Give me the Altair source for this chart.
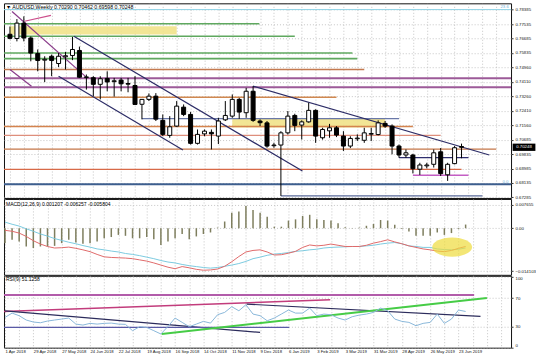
import json
import altair as alt
import pandas as pd

FONT = "Liberation Sans"
GRID = "#B8B8B8"

# ---------------- data ----------------
bar_index = list(range(66))
opens = [0.7693, 0.7668, 0.7759, 0.7671, 0.7579, 0.7540, 0.7563, 0.7520, 0.7560, 0.7567,
         0.7597, 0.7437, 0.7436, 0.7397, 0.7432, 0.7413, 0.7422, 0.7402, 0.7390, 0.7279,
         0.7308, 0.7327, 0.7184, 0.7095, 0.7150, 0.7262, 0.7219, 0.7048, 0.7104, 0.7113,
         0.7091, 0.7187, 0.7209, 0.7308, 0.7229, 0.7356, 0.7180, 0.7169, 0.7034, 0.7038,
         0.7110, 0.7213, 0.7156, 0.7175, 0.7243, 0.7081, 0.7122, 0.7140, 0.7091, 0.7032,
         0.7075, 0.7066, 0.7102, 0.7100, 0.7166, 0.7150, 0.7032, 0.6979, 0.6979, 0.6895,
         0.6915, 0.6924, 0.6998, 0.6862, 0.6928, 0.70290]
highs = [0.7739, 0.7783, 0.7799, 0.7680, 0.7603, 0.7563, 0.7573, 0.7582, 0.7589, 0.7677,
         0.7620, 0.7455, 0.7445, 0.7445, 0.7474, 0.7435, 0.7435, 0.7435, 0.7445, 0.7309,
         0.7343, 0.7345, 0.7219, 0.7209, 0.7298, 0.7278, 0.7233, 0.7130, 0.7130, 0.7130,
         0.7199, 0.7298, 0.7337, 0.7317, 0.7376, 0.7386, 0.7190, 0.7180, 0.7051, 0.7120,
         0.7239, 0.7223, 0.7184, 0.7288, 0.7249, 0.7140, 0.7163, 0.7150, 0.7120, 0.7090,
         0.7101, 0.7140, 0.7140, 0.7184, 0.7180, 0.7160, 0.7041, 0.7012, 0.6986, 0.6933,
         0.6933, 0.7012, 0.7020, 0.6933, 0.7032, 0.70462]
lows = [0.7663, 0.7651, 0.7651, 0.7533, 0.7474, 0.7410, 0.7445, 0.7499, 0.7485, 0.7540,
        0.7435, 0.7366, 0.7327, 0.7308, 0.7356, 0.7324, 0.7356, 0.7350, 0.7277, 0.7190,
        0.7298, 0.7180, 0.7091, 0.7081, 0.7146, 0.7209, 0.7041, 0.7041, 0.7090, 0.7012,
        0.7044, 0.7180, 0.7199, 0.7193, 0.7199, 0.7175, 0.7150, 0.7022, 0.7022, 0.6737,
        0.7100, 0.7120, 0.7071, 0.7170, 0.7051, 0.7070, 0.7081, 0.7085, 0.7003, 0.7020,
        0.7062, 0.7051, 0.7062, 0.7095, 0.7140, 0.6983, 0.6963, 0.6963, 0.6870, 0.6861,
        0.6900, 0.6905, 0.6855, 0.6826, 0.6924, 0.69598]
closes = [0.7669, 0.7759, 0.7671, 0.7582, 0.7538, 0.7545, 0.7538, 0.7563, 0.7566, 0.7603,
          0.7439, 0.7441, 0.7397, 0.7430, 0.7411, 0.7418, 0.7400, 0.7398, 0.7278, 0.7308,
          0.7327, 0.7191, 0.7101, 0.7146, 0.7268, 0.7219, 0.7048, 0.7101, 0.7120, 0.7104,
          0.7180, 0.7213, 0.7308, 0.7233, 0.7356, 0.7184, 0.7170, 0.7032, 0.7038, 0.7110,
          0.7209, 0.7154, 0.7175, 0.7243, 0.7091, 0.7130, 0.7140, 0.7097, 0.7032, 0.7077,
          0.7079, 0.7110, 0.7106, 0.7169, 0.7150, 0.7032, 0.6979, 0.6992, 0.6898, 0.6920,
          0.6920, 0.6992, 0.6869, 0.6924, 0.7022, 0.70248]

macd_hist = [-0.0049, -0.0038, -0.0044, -0.0060, -0.0065, -0.0060, -0.0060, -0.0058, -0.0049, -0.0038,
             -0.0047, -0.0051, -0.0049, -0.0044, -0.0033, -0.0029, -0.0022, -0.0025, -0.0033, -0.0033,
             -0.0029, -0.0036, -0.0055, -0.0044, -0.0033, -0.0019, -0.0036, -0.0027, -0.0019, -0.0014,
             0.0002, 0.0022, 0.0051, 0.0055, 0.0073, 0.0060, 0.0051, 0.0038, 0.0005, 0.0005,
             0.0025, 0.0029, 0.0040, 0.0044, 0.0029, 0.0027, 0.0025, 0.0016, 0.0003, 0.0001,
             0.0002, 0.0008, 0.0014, 0.0027, 0.0025, 0.0011, -0.0003, -0.0011, -0.0025, -0.0025,
             -0.0025, -0.0014, -0.0022, -0.0016, -0.0003, 0.0012]
macd_red = [-0.0007, -0.0010, -0.0016, -0.0027, -0.0041, -0.0052, -0.0060, -0.0065, -0.0064, -0.0062,
            -0.0066, -0.0071, -0.0077, -0.0086, -0.0094, -0.0096, -0.0097, -0.0098, -0.0100, -0.0104,
            -0.0108, -0.0114, -0.0121, -0.0128, -0.0133, -0.0126, -0.0130, -0.0135, -0.0138, -0.0137,
            -0.0134, -0.0125, -0.0110, -0.0093, -0.0078, -0.0073, -0.0071, -0.0078, -0.0088, -0.0087,
            -0.0082, -0.0076, -0.0063, -0.0055, -0.0058, -0.0056, -0.0052, -0.0056, -0.0060, -0.0060,
            -0.0060, -0.0056, -0.0049, -0.0044, -0.0038, -0.0045, -0.0051, -0.0058, -0.0063, -0.0068,
            -0.0071, -0.0075, -0.0077, -0.0073, -0.0066, -0.0060]
macd_blue = [0.0020, 0.0013, 0.0007, -0.0002, -0.0010, -0.0019, -0.0026, -0.0034, -0.0040, -0.0046,
             -0.0051, -0.0057, -0.0062, -0.0068, -0.0071, -0.0075, -0.0078, -0.0083, -0.0086, -0.0090,
             -0.0095, -0.0100, -0.0106, -0.0111, -0.0114, -0.0119, -0.0123, -0.0126, -0.0129, -0.0131,
             -0.0129, -0.0125, -0.0121, -0.0116, -0.0109, -0.0100, -0.0095, -0.0089, -0.0085, -0.0083,
             -0.0080, -0.0076, -0.0074, -0.0071, -0.0069, -0.0065, -0.0063, -0.0062, -0.0061, -0.0060,
             -0.0060, -0.0058, -0.0056, -0.0052, -0.0049, -0.0047, -0.0051, -0.0058, -0.0060, -0.0063,
             -0.0063, -0.0068, -0.0070, -0.0071, -0.0069, -0.0065]
rsi_values = [42.7, 48.8, 45.1, 39.0, 36.2, 35.2, 37.6, 39.0, 40.4, 41.8,
              33.3, 31.9, 34.3, 33.3, 34.3, 34.7, 33.3, 32.9, 24.0, 29.6,
              28.6, 24.0, 19.3, 30.0, 41.8, 35.7, 29.6, 33.3, 37.1, 34.7,
              46.5, 49.8, 57.8, 52.1, 60.6, 47.4, 45.1, 38.0, 41.8, 47.4,
              53.1, 48.8, 48.8, 55.9, 45.1, 47.4, 46.5, 41.8, 39.0, 43.7,
              46.0, 47.4, 49.8, 55.9, 52.1, 40.4, 37.1, 35.7, 31.0, 34.3,
              35.7, 47.4, 34.3, 40.4, 53.1, 51.1]

date_labels = ["1 Apr 2018", "29 Apr 2018", "27 May 2018", "24 Jun 2018", "22 Jul 2018",
               "19 Aug 2018", "16 Sep 2018", "14 Oct 2018", "11 Nov 2018", "9 Dec 2018",
               "6 Jan 2019", "3 Feb 2019", "3 Mar 2019", "31 Mar 2019", "28 Apr 2019",
               "26 May 2019", "23 Jun 2019"]
price_ticks = [0.78385, 0.77535, 0.76685, 0.75835, 0.74960, 0.74110, 0.73260, 0.72410,
               0.71560, 0.70685, 0.69835, 0.68985, 0.68135, 0.67285]
macd_ticks = [0.007655, 0.0, -0.014103]
rsi_ticks = [100, 70, 30, 0]

# horizontal levels drawn on the price panel
hl_level = [0.7839, 0.7755, 0.7681, 0.7582, 0.7549, 0.7485, 0.7433, 0.7380, 0.7321,
            0.7194, 0.7148, 0.7095, 0.7014, 0.6894, 0.6806, 0.6963, 0.6859, 0.6737]
hl_from = [-1, -1, -1, -1, -1, -1, -1, -1, -1, 19, -1, -1, -1, -1, -1, 56, 58, 39]
hl_to = [75, 35.9, 41, 49.3, 50, 51, 75, 75, 47, 56, 58, 62, 70, 65, 75, 66, 66, 68]
hl_color = ["#8FD3E6", "#5FA85F", "#5FA85F", "#5FA85F", "#5FA85F", "#C47A50", "#9C5A98", "#9C5A98",
            "#D08850", "#6A78A8", "#D4834E", "#DE8E7C", "#C47648", "#D86A48", "#3C5E8E", "#2E2E6E",
            "#C45EC4", "#5A6A9A"]
hl_width = [1, 1.6, 1.6, 1.6, 1.6, 1.4, 2, 2, 1.4, 1.2, 1.4, 1.4, 1.4, 1.4, 1.8, 1.2, 1.6, 1.2]

# shaded zones
zone_lo = [0.7691, 0.7142]
zone_hi = [0.7740, 0.7195]
zone_from = [0.0, 32.0]
zone_to = [24.0, 54.0]

# trend lines (bar index, price)
tl_i1 = [0.3, 0.0, 2.1, 9.2, 7.0, 35.0]
tl_p1 = [0.7828, 0.7485, 0.7770, 0.7681, 0.7445, 0.7386]
tl_i2 = [11.1, 3.1, 5.9, 42.1, 24.9, 69.0]
tl_p2 = [0.7435, 0.7386, 0.7805, 0.6884, 0.7008, 0.6979]
tl_color = ["#8A3C8A", "#8A3C8A", "#CC4F8C", "#2C2C66", "#2C2C66", "#2C2C66"]

# RSI panel lines (bar index, value)
rl_i1 = [-1, -1, 0.0, 34.1, -1, 22.1]
rl_v1 = [74.2, 50.7, 52.0, 61.5, 28.6, 19.3]
rl_i2 = [66.2, 45.9, 36.0, 67.1, 40.1, 68.0]
rl_v2 = [74.2, 67.6, 21.5, 44.1, 28.6, 70.0]
rl_color = ["#B25CAA", "#C23C7C", "#2C2C5C", "#2C2C5C", "#5A5AA6", "#46CC46"]
rl_width = [2, 1.5, 1.2, 1.2, 1.4, 2]

last_price = 0.70248
header_price = "\u25bc AUDUSD,Weekly  0.70290 0.70462 0.69598 0.70248"
header_macd = "MACD(12,26,9) 0.001207 -0.006257 -0.005804"
header_rsi = "RSI(9) 51.1258"

# ---------------- layout ----------------
W = 508
H_PRICE, H_MACD, H_RSI = 195, 76, 72
xscale = alt.Scale(domain=[-0.14, 71.41], nice=False, zero=False)
grid_vals = list(range(0, 71, 2))
label_expr = ("(datum.value % 4 == 0 && datum.value <= 64) ? "
              + json.dumps(date_labels) + "[datum.value / 4] : ''")

ax_x_plain = alt.Axis(values=grid_vals, grid=True, gridColor=GRID, gridDash=[1, 2], gridWidth=0.8,
                      labels=False, ticks=False, domain=False, title=None)
ax_x_dates = alt.Axis(values=grid_vals, grid=True, gridColor=GRID, gridDash=[1, 2], gridWidth=0.8,
                      labelExpr=label_expr, labelAlign="left", labelFontSize=4.2, labelFont=FONT,
                      labelColor="#111", labelPadding=2, labelOverlap=False, labelFlush=False,
                      labelBound=False, ticks=False, domain=False, title=None)


def yaxis(values, fmt_expr=None, fmt=None, flush=False):
    kw = dict(orient="right", values=values, grid=True, gridColor=GRID, gridDash=[1, 2],
              gridWidth=0.8, labelFontSize=4.3, labelFont=FONT, labelColor="#111",
              ticks=True, tickSize=2, tickColor="#333", domain=False, title=None,
              labelPadding=2, labelOverlap=False, labelFlush=flush)
    if fmt_expr:
        kw["labelExpr"] = fmt_expr
    if fmt:
        kw["format"] = fmt
    return alt.Axis(**kw)


# ---------------- price panel ----------------
pscale = alt.Scale(domain=[0.6725, 0.7876], nice=False, zero=False)
pax = yaxis(price_ticks, fmt=".5f")

candles = pd.DataFrame({"i": bar_index, "open": opens, "high": highs, "low": lows, "close": closes})
candles["dir"] = ["up" if c >= o else "down" for o, c in zip(opens, closes)]

zones = pd.DataFrame({"lo": zone_lo, "hi": zone_hi, "a": zone_from, "b": zone_to})
hlines = pd.DataFrame({"lvl": hl_level, "a": hl_from, "b": hl_to, "c": hl_color, "w": hl_width})
tlines = pd.DataFrame({"a": tl_i1, "p1": tl_p1, "b": tl_i2, "p2": tl_p2, "c": tl_color})

zone_layer = alt.Chart(zones).mark_rect(color="#F1E28A", opacity=0.9, clip=True).encode(
    x=alt.X("a:Q", scale=xscale, axis=ax_x_plain), x2="b:Q",
    y=alt.Y("lo:Q", scale=pscale, axis=pax), y2="hi:Q")
hline_layer = alt.Chart(hlines).mark_rule(clip=True).encode(
    x=alt.X("a:Q", scale=xscale, axis=ax_x_plain), x2="b:Q",
    y=alt.Y("lvl:Q", scale=pscale, axis=pax),
    color=alt.Color("c:N", scale=None), strokeWidth=alt.StrokeWidth("w:Q", scale=None))
tline_layer = alt.Chart(tlines).mark_rule(clip=True, strokeWidth=1.2).encode(
    x=alt.X("a:Q", scale=xscale, axis=ax_x_plain), x2="b:Q",
    y=alt.Y("p1:Q", scale=pscale, axis=pax), y2="p2:Q",
    color=alt.Color("c:N", scale=None))
wick_layer = alt.Chart(candles).mark_rule(color="#000", strokeWidth=1).encode(
    x=alt.X("i:Q", scale=xscale, axis=ax_x_plain),
    y=alt.Y("low:Q", scale=pscale, axis=pax), y2="high:Q")
body_layer = alt.Chart(candles).mark_bar(size=4, stroke="#000", strokeWidth=1, orient="vertical").encode(
    x=alt.X("i:Q", scale=xscale, axis=ax_x_plain),
    y=alt.Y("open:Q", scale=pscale, axis=pax), y2="close:Q",
    fill=alt.Fill("dir:N", scale=alt.Scale(domain=["up", "down"], range=["#FFFFFF", "#000000"]), legend=None))

fib = pd.DataFrame({"t": ["23.6", "0.0"], "lvl": [hl_level[0], hl_level[14]], "i": [70.6, 70.9]})
fib_layer = alt.Chart(fib).mark_text(align="left", baseline="bottom", dy=-0.5, fontSize=4.3,
                                     font=FONT, color="#6FAFD6").encode(
    x=alt.X("i:Q", scale=xscale, axis=ax_x_plain),
    y=alt.Y("lvl:Q", scale=pscale, axis=pax), text="t:N")

lp = pd.DataFrame({"p": [last_price], "t": [f"{last_price:.5f}"]})
box_layer = alt.Chart(lp).mark_point(shape="M-1,-0.32L1,-0.32L1,0.32L-1,0.32Z", filled=True,
                                     size=520, color="#000", opacity=1).encode(
    x=alt.value(W + 13), y=alt.Y("p:Q", scale=pscale, axis=pax))
box_text = alt.Chart(lp).mark_text(fontSize=4.3, font=FONT, color="#FFF").encode(
    x=alt.value(W + 13), y=alt.Y("p:Q", scale=pscale, axis=pax), text="t:N")

hdr_p = alt.Chart(pd.DataFrame({"t": [header_price]})).mark_text(
    align="left", baseline="middle", fontSize=5.2, font=FONT, color="#000").encode(
    x=alt.value(2), y=alt.value(4), text="t:N")

price = alt.layer(zone_layer, hline_layer, tline_layer, wick_layer, body_layer, fib_layer,
                  box_layer, box_text, hdr_p).properties(width=W, height=H_PRICE)

# ---------------- MACD panel ----------------
mscale = alt.Scale(domain=[-0.0153, 0.0096], nice=False, zero=False)
max_ = yaxis(macd_ticks, fmt_expr="datum.value == 0 ? '0.00' : format(datum.value, '.6f')")
macd_df = pd.DataFrame({"i": bar_index, "h": macd_hist, "r": macd_red, "b": macd_blue})

hist_layer = alt.Chart(macd_df).mark_rule(color="#7E7E5E", strokeWidth=1.5).encode(
    x=alt.X("i:Q", scale=xscale, axis=ax_x_plain),
    y=alt.Y("h:Q", scale=mscale, axis=max_), y2=alt.datum(0))
blue_layer = alt.Chart(macd_df).mark_line(color="#7CCBE0", strokeWidth=1).encode(
    x=alt.X("i:Q", scale=xscale, axis=ax_x_plain), y=alt.Y("b:Q", scale=mscale, axis=max_))
red_layer = alt.Chart(macd_df).mark_line(color="#E06A6A", strokeWidth=1).encode(
    x=alt.X("i:Q", scale=xscale, axis=ax_x_plain), y=alt.Y("r:Q", scale=mscale, axis=max_))
ell = pd.DataFrame({"i": [63.1], "v": [-0.0062]})
ell_layer = alt.Chart(ell).mark_point(
    shape="M-1,0A1,0.48,0,1,0,1,0A1,0.48,0,1,0,-1,0Z", filled=True, size=1600,
    color="#EEDB3C", opacity=0.7).encode(
    x=alt.X("i:Q", scale=xscale, axis=ax_x_plain), y=alt.Y("v:Q", scale=mscale, axis=max_))
hdr_m = alt.Chart(pd.DataFrame({"t": [header_macd]})).mark_text(
    align="left", baseline="middle", fontSize=5, font=FONT, color="#000").encode(
    x=alt.value(2), y=alt.value(5), text="t:N")

macd = alt.layer(hist_layer, blue_layer, red_layer, ell_layer, hdr_m).properties(width=W, height=H_MACD)

# ---------------- RSI panel ----------------
rscale = alt.Scale(domain=[0, 101.4], nice=False, zero=False)
rax = yaxis(rsi_ticks, flush=True)
rsi_df = pd.DataFrame({"i": bar_index, "v": rsi_values})
rlines = pd.DataFrame({"a": rl_i1, "v1": rl_v1, "b": rl_i2, "v2": rl_v2, "c": rl_color, "w": rl_width})

rl_layer = alt.Chart(rlines).mark_rule(clip=True).encode(
    x=alt.X("a:Q", scale=xscale, axis=ax_x_dates), x2="b:Q",
    y=alt.Y("v1:Q", scale=rscale, axis=rax), y2="v2:Q",
    color=alt.Color("c:N", scale=None), strokeWidth=alt.StrokeWidth("w:Q", scale=None))
rsi_layer = alt.Chart(rsi_df).mark_line(color="#8AB8DA", strokeWidth=1).encode(
    x=alt.X("i:Q", scale=xscale, axis=ax_x_dates), y=alt.Y("v:Q", scale=rscale, axis=rax))
hdr_r = alt.Chart(pd.DataFrame({"t": [header_rsi]})).mark_text(
    align="left", baseline="middle", fontSize=5, font=FONT, color="#000").encode(
    x=alt.value(2), y=alt.value(3), text="t:N")

rsi = alt.layer(rl_layer, rsi_layer, hdr_r).properties(width=W, height=H_RSI)

chart = alt.vconcat(price, macd, rsi, spacing=1, bounds="flush").properties(
    padding={"left": 2, "top": 2, "right": 0, "bottom": 0},
    background="#FFFFFF",
).configure_view(stroke="#111", strokeWidth=1)

chart.save("out.html", embed_options={"renderer": "svg", "actions": False})
